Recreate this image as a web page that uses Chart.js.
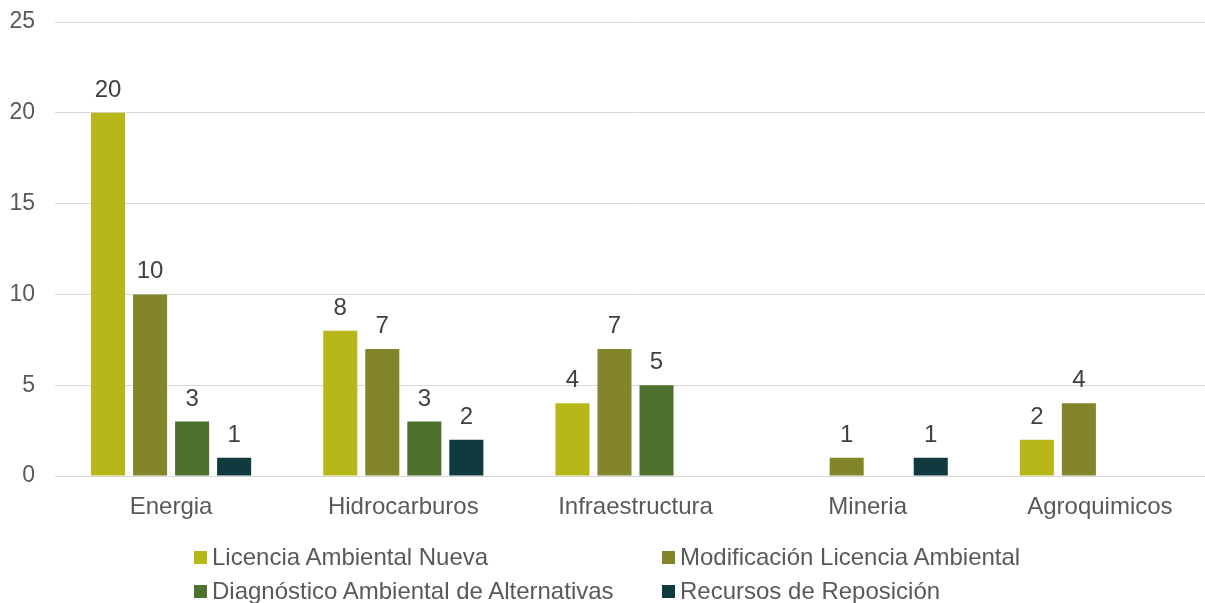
<!DOCTYPE html>
<html>
<head>
<meta charset="utf-8">
<script src="https://cdn.jsdelivr.net/npm/chart.js@4/dist/chart.umd.min.js"></script>
<style>
  html, body { margin: 0; padding: 0; background: #fff; overflow: hidden; }
  #wrap { position: relative; width: 1205px; height: 603px; overflow: hidden; }
  #legend { position: absolute; left: 0; top: 0; width: 1205px; height: 603px; pointer-events: none;
            font-family: "Liberation Sans", Arial, sans-serif; font-size: 24px; color: #595959; }
  .item { position: absolute; white-space: nowrap; line-height: 26px; }
  .box { display: inline-block; width: 13px; height: 13px; margin-right: 5px; vertical-align: 1px; }
</style>
</head>
<body>
<div id="wrap">
  <canvas id="chart" width="1216" height="603"></canvas>
  <div id="legend"></div>
</div>
<script>
// categories and series values
const categories = ['Energia', 'Hidrocarburos', 'Infraestructura', 'Mineria', 'Agroquimicos'];
const seriesNames = ['Licencia Ambiental Nueva', 'Modificación Licencia Ambiental',
                     'Diagnóstico Ambiental de Alternativas', 'Recursos de Reposición'];
const licenciaNueva = [20, 8, 4, null, 2];
const modificacion = [10, 7, 7, 1, 4];
const diagnostico = [3, 3, 5, null, null];
const recursos = [1, 2, null, 1, null];
const yTicks = [0, 5, 10, 15, 20, 25];

const colors = ['#B8B71A', '#828529', '#4E712E', '#0F3A40'];
const FONT = '"Liberation Sans", Arial, sans-serif';

// simple value labels above each bar
const valueLabels = {
    id: 'valueLabels',
    afterDatasetsDraw(chart) {
        const ctx = chart.ctx;
        ctx.save();
        ctx.font = '24px ' + FONT;
        ctx.fillStyle = '#404040';
        ctx.textAlign = 'center';
        ctx.textBaseline = 'alphabetic';
        chart.data.datasets.forEach((ds, i) => {
            chart.getDatasetMeta(i).data.forEach((bar, j) => {
                const v = ds.data[j];
                if (v === null || v === undefined) return;
                ctx.fillText(String(v), bar.x, bar.y - 16);
            });
        });
        ctx.restore();
    }
};

const datasets = [licenciaNueva, modificacion, diagnostico, recursos].map((d, i) => ({
    label: seriesNames[i],
    data: d,
    backgroundColor: colors[i],
    borderWidth: 0,
    categoryPercentage: 0.724,
    barPercentage: 0.81
}));

const chart = new Chart(document.getElementById('chart'), {
    type: 'bar',
    data: { labels: categories, datasets: datasets },
    options: {
        responsive: false,
        animation: false,
        layout: { padding: { top: 22, left: 0, right: 0, bottom: 0 } },
        plugins: {
            legend: { display: false },
            tooltip: { enabled: false }
        },
        scales: {
            x: {
                grid: { display: false, drawTicks: false },
                border: { color: '#d9d9d9', width: 1 },
                ticks: { color: '#595959', font: { family: FONT, size: 24 }, padding: 17 },
                afterFit(scale) { scale.height = 127; }
            },
            y: {
                min: 0,
                max: 25,
                afterBuildTicks(scale) { scale.ticks = yTicks.map(v => ({ value: v })); },
                grid: { color: '#d9d9d9', drawTicks: false },
                border: { display: false },
                ticks: { color: '#595959', font: { family: FONT, size: 23 }, padding: 20 },
                afterFit(scale) {
                    scale.width = 55;
                    scale.paddingTop = 0;
                    scale.paddingBottom = 0;
                }
            }
        }
    },
    plugins: [valueLabels]
});

// legend laid out in two columns like the original
const legendPos = [[194, 544], [662, 544], [194, 578], [662, 578]];
const legendEl = document.getElementById('legend');
chart.data.datasets.forEach((ds, i) => {
    const item = document.createElement('div');
    item.className = 'item';
    item.style.left = legendPos[i][0] + 'px';
    item.style.top = legendPos[i][1] + 'px';
    item.innerHTML = '<span class="box" style="background:' + ds.backgroundColor + '"></span>' + ds.label;
    legendEl.appendChild(item);
});
</script>
</body>
</html>
